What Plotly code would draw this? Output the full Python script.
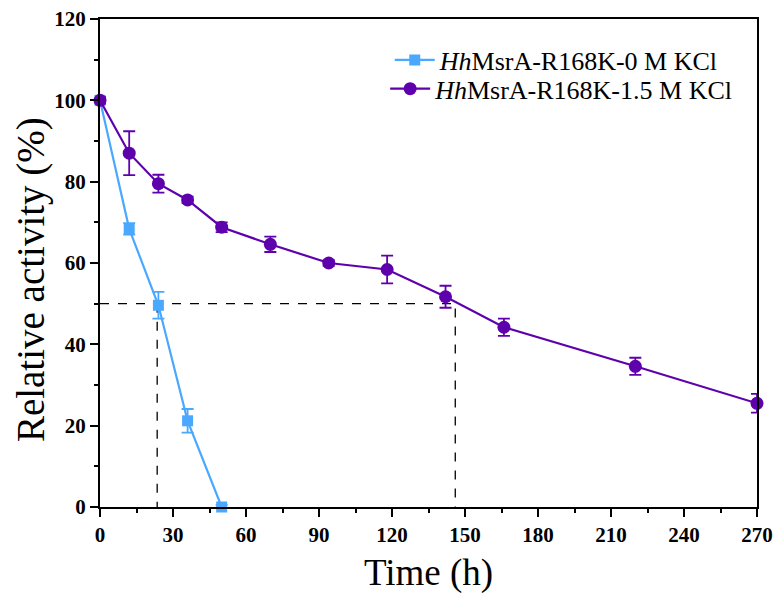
import plotly.graph_objects as go

# Time points (h) and relative activity (%) with standard deviations
time_0m = [0, 12, 24, 36, 50]
act_0m = [100, 68.4, 49.6, 21.2, 0]
err_0m = [0.8, 1.4, 3.3, 2.9, 0.5]

time_15m = [0, 12, 24, 36, 50, 70, 94, 118, 142, 166, 220, 270]
act_15m = [100, 87.0, 79.5, 75.5, 68.8, 64.6, 60.0, 58.4, 51.7, 44.2, 34.6, 25.5]
err_15m = [0.8, 5.4, 2.2, 0.8, 1.2, 1.9, 0.7, 3.4, 2.7, 2.1, 2.1, 2.3]

# Axis tick values
x_ticks = [0, 30, 60, 90, 120, 150, 180, 210, 240, 270]
y_ticks = [0, 20, 40, 60, 80, 100, 120]

# Half-life guide lines (50 % activity)
half_level = 50
half_time_0m = 23.5
half_time_15m = 146

blue = "#4aa8ff"
purple = "#5f00ad"
serif = "Liberation Serif, Times New Roman, serif"

fig = go.Figure()

# dashed guides
fig.add_trace(go.Scatter(
    x=[0, half_time_15m, half_time_15m], y=[half_level, half_level, 0],
    mode="lines", line=dict(color="black", width=1.3, dash="dash"),
    showlegend=False, hoverinfo="skip"))
fig.add_trace(go.Scatter(
    x=[half_time_0m, half_time_0m], y=[half_level, 0],
    mode="lines", line=dict(color="black", width=1.3, dash="dash"),
    showlegend=False, hoverinfo="skip"))

fig.add_trace(go.Scatter(
    x=time_0m, y=act_0m, mode="lines+markers",
    name="<i>Hh</i>MsrA-R168K-0 M KCl", legend="legend",
    line=dict(color=blue, width=2.2),
    marker=dict(symbol="square", size=11, color=blue),
    error_y=dict(type="data", array=err_0m, visible=True, color=blue,
                 thickness=1.8, width=6),
    cliponaxis=False))

fig.add_trace(go.Scatter(
    x=time_15m, y=act_15m, mode="lines+markers",
    name="<i>Hh</i>MsrA-R168K-1.5 M KCl", legend="legend2",
    line=dict(color=purple, width=2.2),
    marker=dict(symbol="circle", size=13, color=purple),
    error_y=dict(type="data", array=err_15m, visible=True, color=purple,
                 thickness=1.8, width=6),
    cliponaxis=False))

axis_common = dict(
    showline=True, linecolor="black", linewidth=2, mirror=True,
    showgrid=False, zeroline=False, automargin=False,
    ticks="outside", ticklen=8, tickwidth=1.5, tickcolor="black",
    tickfont=dict(family=serif, size=21, color="black"),
    tickmode="array",
)

fig.update_xaxes(
    range=[0, 270], tickvals=x_ticks,
    ticktext=[f"<b>{v}</b>" for v in x_ticks],
    minor=dict(ticks="outside", ticklen=4, tickwidth=1.5, tickcolor="black",
               dtick=15, tick0=0),
    title=dict(text="Time (h)", font=dict(family=serif, size=37, color="black"),
               standoff=13),
    **axis_common)
fig.update_yaxes(
    range=[0, 120], tickvals=y_ticks,
    ticktext=[f"<b>{v}</b>" for v in y_ticks],
    minor=dict(ticks="outside", ticklen=4, tickwidth=1.5, tickcolor="black",
               dtick=10, tick0=0),
    **axis_common)

# y-axis title, set slightly below the axis midpoint
fig.add_annotation(
    text="Relative activity (%)", textangle=-90,
    xref="paper", yref="paper", x=-0.105, y=0.465,
    xanchor="center", yanchor="middle", showarrow=False,
    font=dict(family=serif, size=39, color="black"))

legend_style = dict(xanchor="left", yanchor="middle",
                    font=dict(family=serif, size=26, color="black"),
                    bgcolor="rgba(0,0,0,0)", itemwidth=40)

fig.update_layout(
    width=775, height=598,
    margin=dict(l=100, r=18, t=19, b=91),
    plot_bgcolor="white", paper_bgcolor="white",
    legend=dict(x=0.441, y=0.916, **legend_style),
    legend2=dict(x=0.434, y=0.857, **legend_style),
)

fig.write_html("out.html")
